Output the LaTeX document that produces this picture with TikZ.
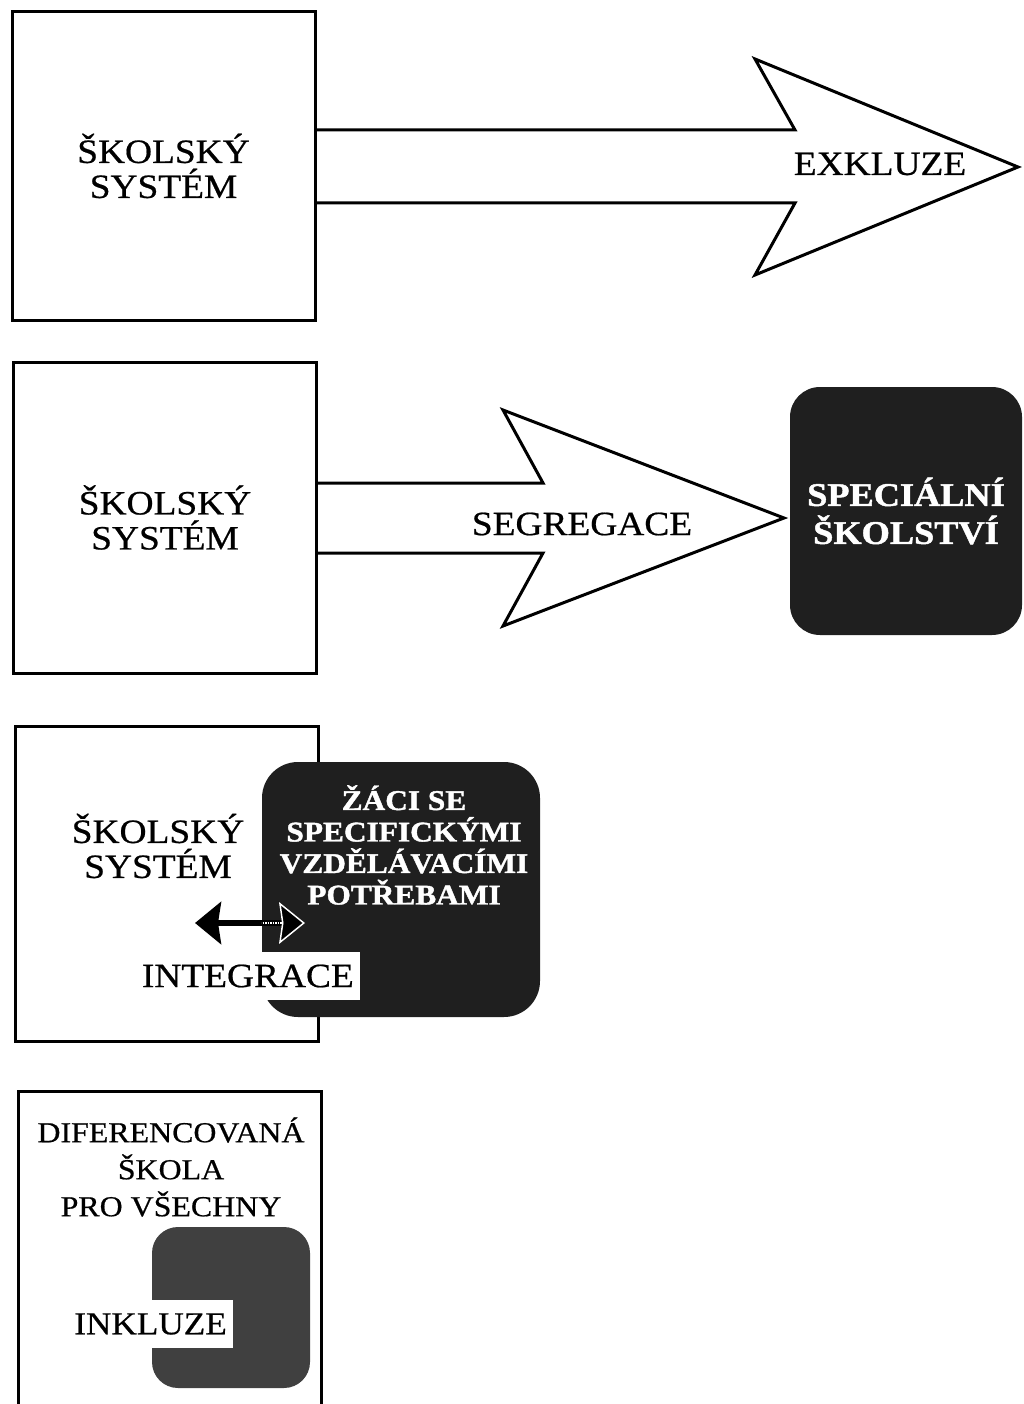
\documentclass[tikz,border=0pt]{standalone}
\usepackage{fontspec}
\setmainfont[FakeStretch=1.1, UprightFeatures={FakeBold=0.6}, BoldFeatures={FakeBold=1.4}]{Liberation Serif}
\usepackage{tikz}
\usetikzlibrary{positioning, arrows.meta}

\begin{document}
\begin{tikzpicture}[
        x=1pt, y=-1pt,
        sysbox/.style={rectangle, draw, line width=3pt, inner sep=0pt, minimum width=303pt},
        darkbox/.style={rectangle, rounded corners=30pt, fill=black!88, inner sep=0pt},
        label/.style={align=center, font=\fontsize{34}{35}\selectfont, inner sep=0pt},
        whitelabel/.style={align=center, text=white, font=\bfseries\fontsize{33}{38}\selectfont, inner sep=0pt},
        cutout/.style={fill=white, font=\fontsize{34}{35}\selectfont, minimum height=48pt, inner xsep=6pt, inner ysep=0pt},
        bigarrow/.style={draw, line width=3pt, line join=miter},
        twoway/.style={{Stealth[length=26pt, width=42pt, inset=3pt]}-{Stealth[length=26pt, width=42pt, inset=3pt]}, line width=6pt}
    ]
        \useasboundingbox (0,0) rectangle (1023,1404);

        \node[sysbox, label, minimum height=308pt] (sys1) at (163.5,166) {ŠKOLSKÝ\\SYSTÉM};
        \draw[bigarrow] (sys1.east |- 0,130) -- (795,130) -- (755,59) -- (1018,167) -- (755,275) -- (795,203) -- (sys1.east |- 0,203);
        \node[label] (exkl) at (880,164) {EXKLUZE};

        \node[sysbox, label, minimum height=311pt] (sys2) at (165,517.5) {ŠKOLSKÝ\\SYSTÉM};
        \draw[bigarrow] (sys2.east |- 0,483) -- (543,483) -- (503,410) -- (784,518) -- (503,626) -- (543,553) -- (sys2.east |- 0,553);
        \node[label] (segr) at (582,524) {SEGREGACE};
        \node[darkbox, whitelabel, minimum width=232pt, minimum height=248pt] (spec) at (906,511) {SPECIÁLNÍ\\ŠKOLSTVÍ};

        \node[sysbox, minimum height=315pt] (sys3) at (166.5,883.5) {};
        \node[label] (sys3txt) at (158,846) {ŠKOLSKÝ\\SYSTÉM};
        \node[darkbox, rounded corners=36pt, minimum width=278pt, minimum height=255pt] (zaci) at (401,889.5) {};
        \node[whitelabel, font=\bfseries\fontsize{28.5}{31.5}\selectfont] (zacitxt) at (404,845) {ŽÁCI SE\\SPECIFICKÝMI\\VZDĚLÁVACÍMI\\POTŘEBAMI};
        \coordinate (intL) at (195,923);
        \coordinate (intR) at (305,923);
        \draw[twoway] (intL) -- (intR);
        \begin{scope}
            \clip (zaci.south west) rectangle (zaci.north east);
            \draw[{Stealth[open, length=26pt, width=42pt, inset=3pt]}-{Stealth[open, length=26pt, width=42pt, inset=3pt]}, white, densely dotted, line width=1.5pt] (intL) -- (intR);
        \end{scope}
        \node[cutout, anchor=east] (integ) at (360,976) {INTEGRACE};

        \node[inner sep=0pt, minimum width=302pt, minimum height=312pt] (sys4) at (170,1248) {};
        \draw[line width=3pt] (sys4.south west) |- (sys4.north east) -- (sys4.south east);
        \node[label, font=\fontsize{29}{37}\selectfont] (dif) at (171,1167) {DIFERENCOVANÁ\\ŠKOLA\\PRO VŠECHNY};
        \node[darkbox, rounded corners=26pt, fill=black!75, minimum width=158pt, minimum height=161pt] (inkbox) at (231,1307.5) {};
        \node[cutout, anchor=east, font=\fontsize{32}{34}\selectfont] (inkl) at (233,1324) {INKLUZE};
    \end{tikzpicture}
\end{document}
